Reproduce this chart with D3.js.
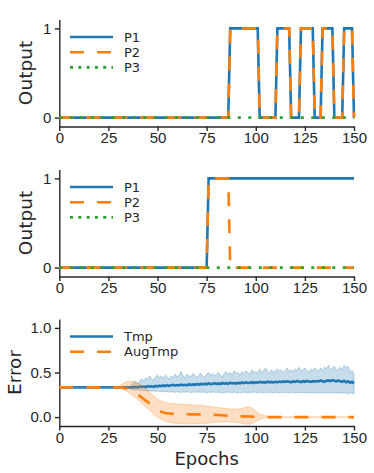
<!DOCTYPE html>
<html>
<head>
<meta charset="utf-8">
<script src="https://cdn.jsdelivr.net/npm/d3@7"></script>
<style>
body { margin: 0; background: #fff; }
svg { display: block; font-family: "DejaVu Sans", sans-serif; }
.axis path, .axis line { stroke: #262626; stroke-width: 1.4; }
.axis text { fill: #262626; font-size: 15px; }
</style>
</head>
<body>
<div id="chart"></div>
<script>
// x ticks shared by all three panels
var xTicks = [0, 25, 50, 75, 100, 125, 150];

// panel 1 and 2: output of P1..P3, as [epoch, output] vertices
var top_p1 = [[0,0],[86,0],[87,1],[101,1],[102,0],[110,0],[111,1],[117,1],[118,0],[122,0],[123,1],[129,1],[130,0],[133,0],[134,1],[139,1],[140,0],[144,0],[145,1],[149,1],[150,0]];
var top_p2 = [[0,0],[86,0],[87,1],[101,1],[102,0],[110,0],[111,1],[117,1],[118,0],[122,0],[123,1],[129,1],[130,0],[133,0],[134,1],[139,1],[140,0],[144,0],[145,1],[149,1],[150,0]];
var top_p3 = [[0,0],[150,0]];

var mid_p1 = [[0,0],[75,0],[76,1],[150,1]];
var mid_p2 = [[0,0],[75,0],[76,1],[86,1],[87,0],[150,0]];
var mid_p3 = [[0,0],[150,0]];

var outNames = ["P1", "P2", "P3"];
var errNames = ["Tmp", "AugTmp"];

// panel 3: error per epoch 0..150
var tmpMean = [
0.333,0.333,0.333,0.333,0.333,0.333,0.333,0.333,0.333,0.333,
0.333,0.333,0.333,0.333,0.333,0.333,0.333,0.333,0.333,0.333,
0.333,0.333,0.333,0.333,0.333,0.333,0.333,0.333,0.333,0.333,
0.333,0.333,0.333,0.333,0.333,0.333,0.333,0.333,
0.335,0.34,0.333,0.345,0.338,0.342,0.336,0.348,0.34,0.345,0.338,0.35,0.344,
0.352,0.346,0.355,0.348,0.358,0.35,0.356,0.362,0.352,0.36,0.355,0.365,0.358,0.362,0.356,0.368,0.36,0.366,0.362,0.37,
0.364,0.372,0.366,0.375,0.368,0.378,0.37,0.374,0.38,0.372,0.378,0.37,0.382,0.375,0.38,0.372,0.385,0.378,0.382,0.376,
0.384,0.378,0.388,0.38,0.39,0.383,0.386,0.392,0.382,0.39,0.385,0.395,0.388,0.392,0.386,0.398,0.39,0.394,0.388,0.396,
0.39,0.398,0.392,0.4,0.394,0.402,0.396,0.39,0.4,0.395,0.404,0.398,0.392,0.402,0.396,0.406,0.4,0.394,0.403,0.398,
0.405,0.4,0.41,0.402,0.396,0.408,0.412,0.404,0.415,0.408,0.4,0.41,0.403,0.396,0.408,0.39,0.402,0.385,0.395,0.378];
var tmpHigh = [
0.333,0.333,0.333,0.333,0.333,0.333,0.333,0.333,0.333,0.333,
0.333,0.333,0.333,0.333,0.333,0.333,0.333,0.333,0.333,0.333,
0.333,0.333,0.333,0.333,0.333,0.333,0.333,0.333,0.333,0.333,
0.333,0.333,0.333,0.333,0.333,0.333,0.345,0.37,
0.39,0.4,0.37,0.41,0.43,0.4,0.44,0.42,0.46,0.43,0.41,0.45,0.47,
0.44,0.46,0.43,0.47,0.45,0.42,0.46,0.44,0.48,0.45,0.47,0.51,0.46,0.44,0.48,0.46,0.45,0.49,0.47,0.44,
0.47,0.49,0.46,0.45,0.48,0.5,0.47,0.49,0.46,0.48,0.5,0.47,0.45,0.49,0.51,0.48,0.5,0.47,0.52,0.49,
0.5,0.47,0.51,0.49,0.52,0.5,0.48,0.53,0.5,0.51,0.49,0.54,0.5,0.52,0.55,0.51,0.49,0.53,0.5,0.52,
0.54,0.51,0.53,0.5,0.52,0.55,0.51,0.53,0.5,0.54,0.52,0.56,0.51,0.53,0.55,0.52,0.5,0.54,0.52,0.55,
0.53,0.51,0.55,0.52,0.56,0.54,0.58,0.53,0.55,0.57,0.52,0.54,0.56,0.53,0.58,0.55,0.57,0.5,0.52,0.48];
var tmpLow = [
0.333,0.333,0.333,0.333,0.333,0.333,0.333,0.333,0.333,0.333,
0.333,0.333,0.333,0.333,0.333,0.333,0.333,0.333,0.333,0.333,
0.333,0.333,0.333,0.333,0.333,0.333,0.333,0.333,0.333,0.333,
0.333,0.333,0.333,0.333,0.333,0.333,0.325,0.31,
0.305,0.3,0.31,0.298,0.302,0.295,0.3,0.292,0.298,0.29,0.295,0.288,0.292,
0.29,0.285,0.29,0.282,0.288,0.28,0.286,0.282,0.278,0.285,0.28,0.276,0.283,0.279,0.285,0.28,0.276,0.282,0.278,0.284,
0.28,0.276,0.282,0.278,0.274,0.28,0.277,0.283,0.279,0.275,0.281,0.277,0.273,0.279,0.276,0.282,0.278,0.274,0.28,0.277,
0.273,0.279,0.275,0.281,0.277,0.273,0.279,0.276,0.282,0.278,0.274,0.28,0.276,0.272,0.278,0.275,0.281,0.277,0.273,0.279,
0.276,0.272,0.278,0.274,0.28,0.276,0.272,0.278,0.275,0.271,0.277,0.273,0.279,0.275,0.271,0.277,0.274,0.27,0.276,0.272,
0.268,0.274,0.27,0.276,0.272,0.268,0.274,0.27,0.266,0.272,0.268,0.274,0.27,0.266,0.272,0.268,0.264,0.27,0.266,0.262];

var augMean = [
0.333,0.333,0.333,0.333,0.333,0.333,0.333,0.333,0.333,0.333,
0.333,0.333,0.333,0.333,0.333,0.333,0.333,0.333,0.333,0.333,
0.333,0.333,0.333,0.333,0.333,0.333,0.333,0.333,0.333,0.333,
0.333,0.333,
0.33,0.325,0.32,0.31,0.3,0.29,0.28,0.265,0.25,0.235,0.22,0.2,0.185,0.17,0.15,0.13,0.11,0.095,0.08,
0.07,0.06,0.052,0.046,0.042,0.04,0.038,0.036,0.035,0.034,0.033,0.034,0.032,0.033,0.031,0.032,0.03,0.031,0.03,0.03,
0.029,0.03,0.028,0.029,0.027,0.028,0.026,0.027,0.025,0.026,0.024,0.022,0.02,0.018,0.016,0.014,0.012,0.011,0.01,0.01,
0.009,0.01,0.008,0.009,0.007,0.008,0.006,0.005,0.004,0.003,0.002,0.002,0.001,0.001,0.001,0,0,0,0,0,
0,0,0,0,0,0,0,0,0,0,0,0,0,0,0,0,0,0,0,0,
0,0,0,0,0,0,0,0,0,0,0,0,0,0,0,0,0,0,0,0];
var augHigh = [
0.333,0.333,0.333,0.333,0.333,0.333,0.333,0.333,0.333,0.333,
0.333,0.333,0.333,0.333,0.333,0.333,0.333,0.333,0.333,0.333,
0.333,0.333,0.333,0.333,0.333,0.333,0.333,0.333,0.333,0.333,
0.34,0.355,0.37,0.385,0.395,0.4,0.402,0.4,0.398,0.39,0.38,0.365,0.35,0.335,0.32,0.3,0.28,0.26,0.24,0.22,0.2,
0.19,0.18,0.17,0.165,0.158,0.155,0.15,0.152,0.148,0.145,0.147,0.142,0.14,0.143,0.138,0.14,0.135,0.137,0.132,0.134,
0.13,0.128,0.13,0.125,0.122,0.12,0.118,0.115,0.113,0.11,0.108,0.105,0.1,0.098,0.095,0.093,0.09,0.088,0.087,0.088,
0.09,0.095,0.1,0.105,0.11,0.112,0.11,0.1,0.085,0.065,0.05,0.038,0.028,0.02,0.014,0.009,0.005,0.002,0,0,
0,0,0,0,0,0,0,0,0,0,0,0,0,0,0,0,0,0,0,0,
0,0,0,0,0,0,0,0,0,0,0,0,0,0,0,0,0,0,0,0];
var augLow = [
0.333,0.333,0.333,0.333,0.333,0.333,0.333,0.333,0.333,0.333,
0.333,0.333,0.333,0.333,0.333,0.333,0.333,0.333,0.333,0.333,
0.333,0.333,0.333,0.333,0.333,0.333,0.333,0.333,0.333,0.333,
0.33,0.325,0.315,0.305,0.295,0.28,0.265,0.25,0.235,0.215,0.195,0.175,0.155,0.135,0.115,0.095,0.075,0.055,0.035,0.015,0.0,
-0.015,-0.025,-0.035,-0.045,-0.052,-0.058,-0.062,-0.066,-0.068,-0.07,-0.072,-0.073,-0.074,-0.075,-0.075,-0.076,-0.075,-0.076,-0.075,-0.074,
-0.074,-0.073,-0.072,-0.07,-0.068,-0.066,-0.064,-0.062,-0.06,-0.058,-0.056,-0.055,-0.054,-0.053,-0.052,-0.052,-0.053,-0.054,-0.056,-0.058,
-0.06,-0.065,-0.07,-0.075,-0.078,-0.08,-0.078,-0.072,-0.062,-0.05,-0.038,-0.028,-0.02,-0.014,-0.009,-0.005,-0.003,-0.001,0,0,
0,0,0,0,0,0,0,0,0,0,0,0,0,0,0,0,0,0,0,0,
0,0,0,0,0,0,0,0,0,0,0,0,0,0,0,0,0,0,0,0];

var colors = ["#1f77b4", "#ff7f0e", "#2ca02c"];
var dashLine = ["none", "14,13", "3,7.5"];
var dashLegend = ["none", "14,13", "3,5.3"];

var width = 374, height = 473;
var plotLeft = 59.3, plotRight = 354, plotH = 107;
var panelTops = [19.5, 169.5, 319];
var lw = 2.6;

var svg = d3.select("#chart").append("svg")
  .attr("width", width)
  .attr("height", height);

var x = d3.scaleLinear().domain([0, 150]).range([plotLeft, plotRight]);

function makePanel(top, yTicks, yFmt, label, labelX) {
  var y = d3.scaleLinear().domain([-0.1, 1.1]).range([top + plotH, top]);
  var g = svg.append("g");

  g.append("g")
    .attr("class", "axis")
    .attr("transform", "translate(0," + (top + plotH) + ")")
    .call(d3.axisBottom(x).tickValues(xTicks).tickSize(4.5).tickSizeOuter(0).tickPadding(1.5));

  g.append("g")
    .attr("class", "axis")
    .attr("transform", "translate(" + plotLeft + ",0)")
    .call(d3.axisLeft(y).tickValues(yTicks).tickFormat(d3.format(yFmt)).tickSize(4.5).tickSizeOuter(0).tickPadding(3.5));

  g.append("text")
    .attr("transform", "translate(" + labelX + "," + (top + plotH / 2) + ") rotate(-90)")
    .attr("text-anchor", "middle")
    .style("font-size", "18.5px")
    .style("fill", "#262626")
    .text(label);

  return {g: g, y: y};
}

function drawLegend(g, top, names) {
  names.forEach(function(n, i) {
    var ly = top + 17.5 + i * 15.2;
    g.append("line")
      .attr("x1", 70).attr("x2", 113)
      .attr("y1", ly).attr("y2", ly)
      .attr("stroke", colors[i])
      .attr("stroke-width", lw)
      .attr("stroke-dasharray", dashLegend[i]);
    g.append("text")
      .attr("x", 124).attr("y", ly)
      .attr("dy", "0.36em")
      .style("font-size", "13px")
      .style("fill", "#262626")
      .text(n);
  });
}

function drawSteps(panel, series) {
  var line = d3.line()
    .x(function(d) { return x(d[0]); })
    .y(function(d) { return panel.y(d[1]); });
  series.forEach(function(s, i) {
    panel.g.append("path")
      .datum(s)
      .attr("fill", "none")
      .attr("stroke", colors[i])
      .attr("stroke-width", lw)
      .attr("stroke-dasharray", dashLine[i])
      .attr("d", line);
  });
}

// panel 1
var p1 = makePanel(panelTops[0], [0, 1], "d", "Output", 31.5);
drawSteps(p1, [top_p1, top_p2, top_p3]);
drawLegend(p1.g, panelTops[0], outNames);

// panel 2
var p2 = makePanel(panelTops[1], [0, 1], "d", "Output", 31.5);
drawSteps(p2, [mid_p1, mid_p2, mid_p3]);
drawLegend(p2.g, panelTops[1], outNames);

// panel 3
var p3 = makePanel(panelTops[2], [0, 0.5, 1], ".1f", "Error", 21);

var bands = [
  {mean: tmpMean, lo: tmpLow, hi: tmpHigh},
  {mean: augMean, lo: augLow, hi: augHigh}
];

bands.forEach(function(b, i) {
  var area = d3.area()
    .x(function(d, k) { return x(k); })
    .y0(function(d, k) { return p3.y(b.lo[k]); })
    .y1(function(d, k) { return p3.y(b.hi[k]); });
  var line = d3.line()
    .x(function(d, k) { return x(k); })
    .y(function(d) { return p3.y(d); });

  p3.g.append("path")
    .datum(b.mean)
    .attr("fill", colors[i])
    .attr("fill-opacity", 0.25)
    .attr("stroke", colors[i])
    .attr("stroke-opacity", 0.3)
    .attr("stroke-width", 1)
    .attr("d", area);

  p3.g.append("path")
    .datum(b.mean)
    .attr("fill", "none")
    .attr("stroke", colors[i])
    .attr("stroke-width", lw)
    .attr("stroke-dasharray", dashLine[i])
    .attr("d", line);
});
drawLegend(p3.g, panelTops[2], errNames);

svg.append("text")
  .attr("x", (plotLeft + plotRight) / 2)
  .attr("y", 465)
  .attr("text-anchor", "middle")
  .style("font-size", "18px")
  .style("fill", "#262626")
  .text("Epochs");
</script>
</body>
</html>
